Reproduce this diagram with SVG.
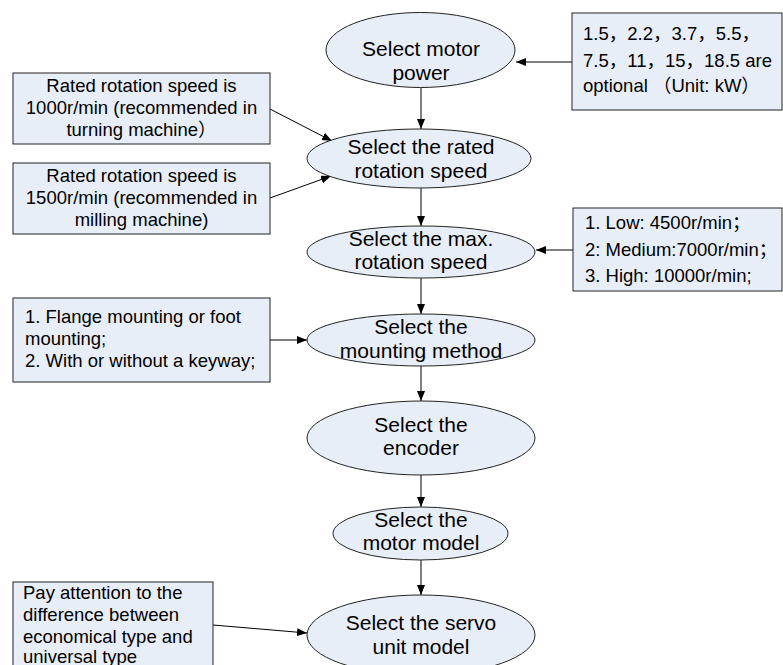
<svg xmlns="http://www.w3.org/2000/svg" width="783" height="665" viewBox="0 0 783 665">
<defs>
<marker id="arr" markerWidth="11" markerHeight="9" refX="10" refY="4" orient="auto" markerUnits="userSpaceOnUse">
<path d="M0,0 L10,4 L0,8 Z" fill="#000"/>
</marker>
<style>
.n{fill:#E8EEF7;stroke:#222;stroke-width:1}
.t{font-family:"Liberation Sans",Arial,sans-serif;fill:#000}
.j{font-family:"Noto Sans CJK SC","Noto Sans CJK JP",sans-serif}
.e{font-size:21px;text-anchor:middle}
.b{font-size:18.5px}
.c{text-anchor:middle}
.k{stroke:#000;stroke-width:1;fill:none;marker-end:url(#arr)}
</style>
</defs>
<rect width="783" height="665" fill="#fff"/>
<g id="connectors">
<line class="k" x1="572" y1="62" x2="516" y2="62"/>
<line class="k" x1="421" y1="88" x2="421" y2="129"/>
<line class="k" x1="270" y1="109" x2="332" y2="141"/>
<line class="k" x1="270" y1="198" x2="331" y2="176"/>
<line class="k" x1="421" y1="188" x2="421" y2="226"/>
<line class="k" x1="573" y1="250" x2="536" y2="250"/>
<line class="k" x1="421" y1="278" x2="421" y2="314"/>
<line class="k" x1="270" y1="340" x2="307" y2="340"/>
<line class="k" x1="421" y1="366" x2="421" y2="401"/>
<line class="k" x1="421" y1="475" x2="421" y2="507"/>
<line class="k" x1="421" y1="560" x2="421" y2="595"/>
<line class="k" x1="213" y1="625" x2="307" y2="633"/>
</g>
<g id="motor-power">
<ellipse class="n" cx="420.5" cy="50" rx="94.5" ry="37.5"/>
<text class="t e" x="421" y="56">Select motor</text>
<text class="t e" x="421" y="80">power</text>
</g>
<g id="power-options">
<rect class="n" x="572" y="13" width="210" height="97"/>
<text class="t b" x="583" y="40">1.5<tspan class="j">，</tspan>2.2<tspan class="j">，</tspan>3.7<tspan class="j">，</tspan>5.5<tspan class="j">，</tspan></text>
<text class="t b" x="583" y="67">7.5<tspan class="j">，</tspan>11<tspan class="j">，</tspan>15<tspan class="j">，</tspan>18.5 are</text>
<text class="t b" x="583" y="92">optional <tspan class="j">（</tspan>Unit: kW<tspan class="j">）</tspan></text>
</g>
<g id="speed-1000">
<rect class="n" x="13" y="73" width="257" height="71"/>
<text class="t b c" x="141.5" y="92">Rated rotation speed is</text>
<text class="t b c" x="141.5" y="114">1000r/min (recommended in</text>
<text class="t b c" x="141.5" y="136">turning machine<tspan class="j">）</tspan></text>
</g>
<g id="speed-1500">
<rect class="n" x="13" y="163" width="257" height="71"/>
<text class="t b c" x="141.5" y="182">Rated rotation speed is</text>
<text class="t b c" x="141.5" y="204">1500r/min (recommended in</text>
<text class="t b c" x="141.5" y="226">milling machine)</text>
</g>
<g id="rated-speed">
<ellipse class="n" cx="419" cy="158.5" rx="112" ry="29.5"/>
<text class="t e" x="421" y="154">Select the rated</text>
<text class="t e" x="421" y="178">rotation speed</text>
</g>
<g id="max-speed">
<ellipse class="n" cx="421" cy="252" rx="114" ry="26"/>
<text class="t e" x="421" y="246">Select the max.</text>
<text class="t e" x="421" y="269">rotation speed</text>
</g>
<g id="max-options">
<rect class="n" x="573" y="208" width="209" height="83"/>
<text class="t b" x="585" y="229">1. Low: 4500r/min<tspan class="j">；</tspan></text>
<text class="t b" x="585" y="256">2: Medium:7000r/min<tspan class="j">；</tspan></text>
<text class="t b" x="585" y="282">3. High: 10000r/min;</text>
</g>
<g id="mount-options">
<rect class="n" x="13" y="298" width="257" height="84"/>
<text class="t b" x="25" y="323">1. Flange mounting or foot</text>
<text class="t b" x="25" y="345">mounting;</text>
<text class="t b" x="25" y="367">2. With or without a keyway;</text>
</g>
<g id="mounting">
<ellipse class="n" cx="421" cy="340" rx="114" ry="26"/>
<text class="t e" x="421" y="334">Select the</text>
<text class="t e" x="421" y="358">mounting method</text>
</g>
<g id="encoder">
<ellipse class="n" cx="421" cy="438" rx="114" ry="37"/>
<text class="t e" x="421" y="432">Select the</text>
<text class="t e" x="421" y="455">encoder</text>
</g>
<g id="motor-model">
<ellipse class="n" cx="420.5" cy="533.5" rx="87.5" ry="26.5"/>
<text class="t e" x="421" y="527">Select the</text>
<text class="t e" x="421" y="550">motor model</text>
</g>
<g id="servo-note">
<rect class="n" x="13" y="582" width="200" height="90"/>
<text class="t b" x="23" y="599">Pay attention to the</text>
<text class="t b" x="23" y="621">difference between</text>
<text class="t b" x="23" y="643">economical type and</text>
<text class="t b" x="23" y="663">universal type</text>
</g>
<g id="servo">
<ellipse class="n" cx="421" cy="635" rx="114" ry="40"/>
<text class="t e" x="421" y="630">Select the servo</text>
<text class="t e" x="421" y="654">unit model</text>
</g>
</svg>
